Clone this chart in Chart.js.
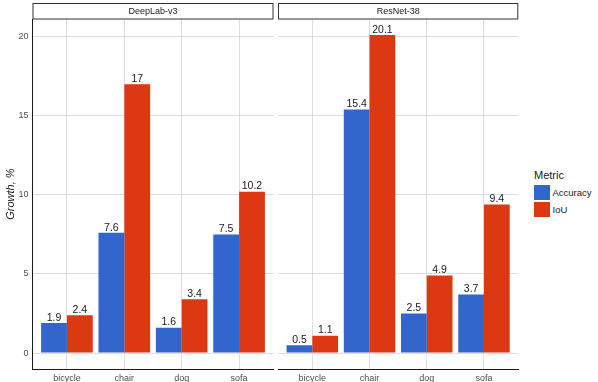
<!DOCTYPE html>
<html>
<head>
<meta charset="utf-8">
<script src="https://cdn.jsdelivr.net/npm/chart.js@4"></script>
<style>
  body { margin: 0; background: #fff; }
  #wrap { position: relative; width: 598px; height: 382px; overflow: hidden; font-family: "Liberation Sans", Arial, sans-serif; color: #1a1a1a; }
  canvas { position: absolute; top: 0; }
  #left { left: 0; }
  #right { left: 276px; }
  .lg { position: absolute; white-space: nowrap; }
  .key { position: absolute; width: 16px; height: 15px; }
</style>
</head>
<body>
<div id="wrap">
  <canvas id="left" width="276" height="382"></canvas>
  <canvas id="right" width="245" height="382"></canvas>
  <div class="lg" style="left:534px;top:169px;font-size:11px;line-height:13px;">Metric</div>
  <div class="key" style="left:534px;top:185px;background:#3366cc;"></div>
  <div class="key" style="left:534px;top:201.5px;background:#dc3912;"></div>
  <div class="lg" style="left:552.5px;top:186px;font-size:9.5px;line-height:13px;">Accuracy</div>
  <div class="lg" style="left:552.5px;top:202.5px;font-size:9.5px;line-height:13px;">IoU</div>
</div>
<script>
const categories = ['bicycle', 'chair', 'dog', 'sofa'];
const deeplabAccuracy = [1.9, 7.6, 1.6, 7.5];
const deeplabIoU = [2.4, 17, 3.4, 10.2];
const resnetAccuracy = [0.5, 15.4, 2.5, 3.7];
const resnetIoU = [1.1, 20.1, 4.9, 9.4];
const yTicks = [0, 5, 10, 15, 20];

const FONT = '"Liberation Sans", Arial, sans-serif';
const GRID = '#dedede';

// facet strip on top of each panel
const strip = {
  id: 'strip',
  afterDraw(chart, args, opts) {
    const { ctx, chartArea } = chart;
    ctx.save();
    ctx.fillStyle = '#fff';
    ctx.strokeStyle = '#333';
    ctx.lineWidth = 1;
    ctx.fillRect(chartArea.left, 3, chartArea.right - chartArea.left, 16);
    ctx.strokeRect(chartArea.left + 0.5, 3.5, chartArea.right - chartArea.left - 1, 15.5);
    ctx.fillStyle = '#1a1a1a';
    ctx.font = '9px ' + FONT;
    ctx.textAlign = 'center';
    ctx.textBaseline = 'middle';
    ctx.fillText(opts.text, (chartArea.left + chartArea.right) / 2, 11.5);
    ctx.restore();
  }
};

// numbers above the bars
const valueLabels = {
  id: 'valueLabels',
  afterDatasetsDraw(chart) {
    const ctx = chart.ctx;
    ctx.save();
    ctx.font = '10.5px ' + FONT;
    ctx.fillStyle = '#1a1a1a';
    ctx.textAlign = 'center';
    ctx.textBaseline = 'bottom';
    chart.data.datasets.forEach((ds, i) => {
      chart.getDatasetMeta(i).data.forEach((bar, j) => {
        ctx.fillText(String(ds.data[j]), bar.x, bar.y);
      });
    });
    ctx.restore();
  }
};

function makePanel(id, title, acc, iou, showY, padding) {
  return new Chart(document.getElementById(id), {
    type: 'bar',
    data: {
      labels: categories,
      datasets: [
        { label: 'Accuracy', data: acc, backgroundColor: '#3366cc' },
        { label: 'IoU', data: iou, backgroundColor: '#dc3912' }
      ]
    },
    options: {
      responsive: false,
      animation: false,
      layout: { padding: padding },
      categoryPercentage: 0.9,
      barPercentage: 1,
      plugins: {
        legend: { display: false },
        tooltip: { enabled: false },
        strip: { text: title }
      },
      scales: {
        x: {
          offset: true,
          grid: { offset: false, color: GRID, drawTicks: false },
          border: { color: '#1a1a1a', width: 1 },
          ticks: { color: '#4d4d4d', font: { size: 9, family: FONT }, padding: 4, maxRotation: 0, autoSkip: false },
          afterBuildTicks(s) {
            // ggplot style discrete expansion of 0.6 on each side
            s._startValue = -0.6;
            s._valueRange = categories.length - 1 + 1.2;
          },
          afterFit(s) { s.height = 13; }
        },
        y: {
          min: -1.005,
          max: 21.105,
          afterBuildTicks(s) { s.ticks = yTicks.map(v => ({ value: v })); },
          grid: { color: GRID, drawTicks: false },
          border: { display: showY, color: '#1a1a1a', width: 1 },
          ticks: { display: showY, color: '#4d4d4d', font: { size: 9, family: FONT }, padding: 4 },
          title: {
            display: showY, text: 'Growth, %', color: '#1a1a1a',
            font: { size: 11, style: 'italic', family: FONT }, padding: { top: 4, bottom: 0 }
          },
          afterFit(s) { s.width = showY ? 32.5 : 0; }
        }
      }
    },
    plugins: [strip, valueLabels]
  });
}

makePanel('left', 'DeepLab-v3', deeplabAccuracy, deeplabIoU, true, { top: 19.2, right: 2.5, left: 0, bottom: 0 });
makePanel('right', 'ResNet-38', resnetAccuracy, resnetIoU, false, { top: 19.2, left: 2, right: 2.7, bottom: 0 });
</script>
</body>
</html>
